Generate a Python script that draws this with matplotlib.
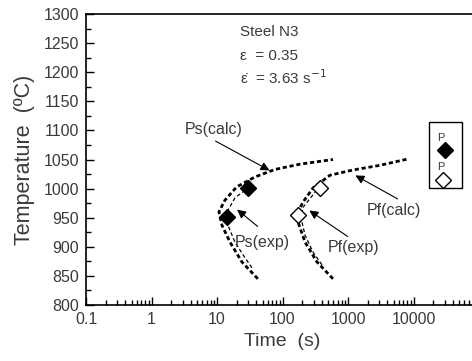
import numpy as np
import matplotlib
matplotlib.use("Agg")
import matplotlib.pyplot as plt
from matplotlib.patches import Rectangle

plt.rcParams['font.family'] = ['Liberation Sans', 'DejaVu Sans']

# calculated start / finish curves (time s, temperature C)
ps_calc_t = [42, 24, 15.8, 11.9, 10.7, 13.2, 20, 38, 77, 185, 590]
ps_calc_T = [845, 874, 908, 937, 960, 980, 1003, 1020, 1033, 1042, 1050]
pf_calc_t = [590, 336, 221, 172, 172, 206, 292, 531, 1192, 3080, 8240]
pf_calc_T = [845, 874, 908, 943, 960, 977, 1001, 1023, 1032, 1040, 1051]

# thin fitted curves through the experiments
ps_fit_t = [34.2, 26.8, 18.8, 14.7, 14.2, 18.8, 29.7]
ps_fit_T = [864, 881, 908, 937, 960, 984, 1001]
pf_fit_t = [401, 292, 221, 192, 206, 336, 374]
pf_fit_T = [869, 891, 920, 949, 968, 998, 1001]

# experimental points
ps_exp_t = [14.2, 29.7]
ps_exp_T = [951, 1001]
pf_exp_t = [172, 374]
pf_exp_T = [955, 1001]

xticks = [0.1, 1, 10, 100, 1000, 10000, 100000]
xticklabels = ['0.1', '1', '10', '100', '1000', '10000', '']
yticks = list(range(800, 1301, 50))

txt = '#3a3a3a'

fig = plt.figure(figsize=(4.72, 3.61), dpi=100)
ax = fig.add_axes([86/472, 1 - 305/361, 393/472, 291/361])

dash = dict(color='black', lw=2.0, linestyle=(0, (1.5, 1.0)))
ax.plot(ps_calc_t, ps_calc_T, **dash)
ax.plot(pf_calc_t, pf_calc_T, **dash)
thin = dict(color='black', lw=0.9, linestyle=(0, (3, 2)))
ax.plot(ps_fit_t, ps_fit_T, **thin)
ax.plot(pf_fit_t, pf_fit_T, **thin)

ax.plot(ps_exp_t, ps_exp_T, 'D', ms=8, mfc='black', mec='black', ls='none')
ax.plot(pf_exp_t, pf_exp_T, 'D', ms=8, mfc='white', mec='black', mew=1.0, ls='none')

ax.set_xscale('log')
ax.set_xlim(0.1, 100000)
ax.set_ylim(800, 1300)
ax.set_xticks(xticks)
ax.set_xticklabels(xticklabels)
ax.set_yticks(yticks)
ax.set_yticks(range(800, 1301, 25), minor=True)
ax.tick_params(which='both', direction='in', labelsize=11.5, labelcolor=txt, width=1.0)
ax.tick_params(which='major', length=6)
ax.tick_params(which='minor', length=3.5)
ax.tick_params(axis='x', pad=5)
ax.tick_params(axis='y', pad=5)
for s in ax.spines.values():
    s.set_linewidth(1.2)

ax.set_xlabel('Time  (s)', fontsize=14, color=txt, labelpad=4)
ax.set_ylabel('Temperature  (ºC)', fontsize=15.5, color=txt, labelpad=6)

arr = dict(arrowstyle='-|>', color='black', lw=0.8, mutation_scale=13)
ax.text(3.2, 1101, 'Ps(calc)', fontsize=11.5, color=txt, va='center', ha='left')
ax.annotate('', xy=(69, 1029), xytext=(8.7, 1084), arrowprops=arr)
ax.text(18.8, 908, 'Ps(exp)', fontsize=11.5, color=txt, va='center', ha='left')
ax.annotate('', xy=(18.8, 967), xytext=(45, 932), arrowprops=arr)
ax.text(495, 898, 'Pf(exp)', fontsize=11.5, color=txt, va='center', ha='left')
ax.annotate('', xy=(237, 965), xytext=(1074, 915), arrowprops=arr)
ax.text(1950, 963, 'Pf(calc)', fontsize=11.5, color=txt, va='center', ha='left')
ax.annotate('', xy=(1190, 1025), xytext=(6220, 980), arrowprops=arr)

ax.text(0.392, 0.938, 'Steel N3', transform=ax.transAxes, fontsize=11, color=txt, va='center')
ax.text(0.392, 0.856, 'ε  = 0.35', transform=ax.transAxes, fontsize=11, color=txt, va='center')
ax.text(0.392, 0.780, 'ε\u0307  = 3.63 s$^{-1}$', transform=ax.transAxes, fontsize=11,
        color=txt, va='center')

# small legend box at the right
ax.add_patch(Rectangle((0.873, 0.402), 0.084, 0.227, transform=ax.transAxes,
                       fill=False, ec='black', lw=1.0))
ax.text(0.903, 0.574, 'P', transform=ax.transAxes, fontsize=8, color=txt, ha='center', va='center')
ax.plot([0.913], [0.533], 'D', ms=8, mfc='black', mec='black', transform=ax.transAxes)
ax.text(0.903, 0.474, 'P', transform=ax.transAxes, fontsize=8, color=txt, ha='center', va='center')
ax.plot([0.908], [0.430], 'D', ms=8, mfc='white', mec='black', transform=ax.transAxes)

fig.savefig('out.png', dpi=100)
